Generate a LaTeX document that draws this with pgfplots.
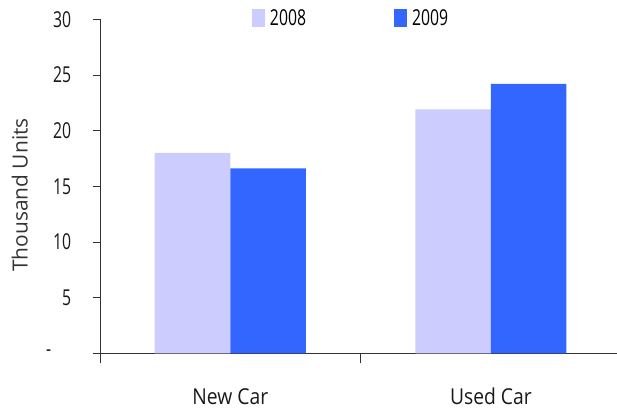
\documentclass[border=0pt]{standalone}
\usepackage{fontspec}
\setmainfont{Open Sans}
\newfontfamily\digfont[FakeStretch=0.72]{Open Sans}
\newfontfamily\condfont[FakeStretch=0.88]{Open Sans}
\usepackage{pgfplots}
\pgfplotsset{compat=1.18}
\definecolor{c08}{HTML}{CCCCFF}
\definecolor{c09}{HTML}{3366FF}
\definecolor{axc}{HTML}{333333}
\begin{document}
\begin{tikzpicture}
\begin{axis}[
  scale only axis, width=517bp, height=334bp,
  xmin=-0.5, xmax=1.484, ymin=0, ymax=30,
  ybar=0pt, bar width=0.29,
  axis x line*=bottom, axis y line*=left,
  axis line style={axc, line width=0.8bp},
  tick style={axc, line width=0.8bp},
  tick align=outside,
  ytick={0,5,10,15,20,25,30},
  yticklabels={{-\kern20bp},5,10,15,20,25,30},
  ytick style={/pgfplots/major tick length=7bp},
  yticklabel style={font=\digfont\fontsize{22}{26}\selectfont, text=black!90, anchor=east, inner sep=0pt, xshift=-24.3bp},
  xtick={-0.5,0.5}, xticklabels={,},
  xtick style={/pgfplots/major tick length=10bp},
  extra x ticks={0,1}, extra x tick labels={New Car,Used Car},
  extra x tick style={major tick length=0pt, tick style={draw=none},
    xticklabel style={font=\condfont\fontsize{22}{26}\selectfont, text=black!90, anchor=base, yshift=-50.7bp}},
  ylabel={Thousand Units},
  ylabel style={at={(axis description cs:-0.155,0.474)}, anchor=center, font=\fontsize{21}{25}\selectfont, text=black!80},
  legend columns=2,
  legend style={draw=none, fill=none, inner sep=0pt, outer sep=0pt,
    at={(axis description cs:0.294,1.0024)}, anchor=west,
    font=\digfont\fontsize{22}{26}\selectfont,
    /tikz/every odd column/.append style={column sep=3bp},
    /tikz/every even column/.append style={column sep=86bp}},
  legend image code/.code={\fill[#1] (0bp,-9bp) rectangle (13bp,9bp);},
]
\addplot[fill=c08, draw=none] coordinates {(0,18.0) (1,21.9)};
\addplot[fill=c09, draw=none] coordinates {(0,16.6) (1,24.2)};
\legend{2008,2009}
\coordinate (O) at (rel axis cs:0,0);
\end{axis}
\pgfresetboundingbox
\path ([shift={(-100bp,-59.7bp)}]O) rectangle ([shift={(517bp,353.3bp)}]O);
\end{tikzpicture}
\end{document}
